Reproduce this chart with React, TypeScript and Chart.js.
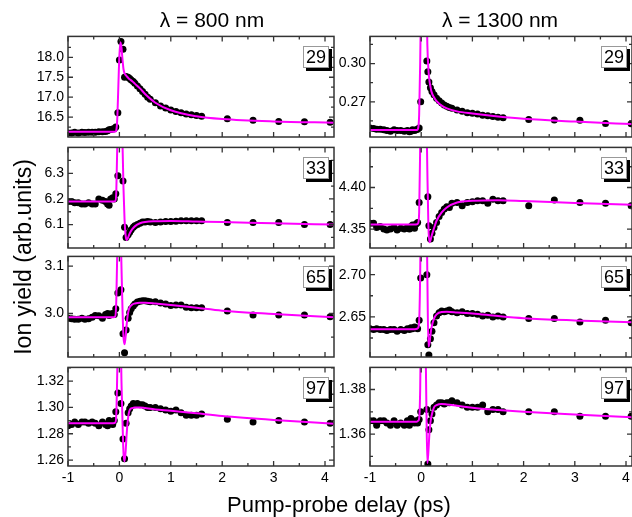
import React, { useEffect, useRef } from "react";
import { Chart, registerables } from "chart.js";

Chart.register(...registerables);

const FONT = "'Liberation Sans', Arial, Helvetica, sans-serif";

// ---------- data ----------
const DELAY_800 = [-1.0, -0.93, -0.87, -0.8, -0.73, -0.67, -0.6, -0.53, -0.47, -0.4, -0.33, -0.27, -0.23, -0.2, -0.17, -0.13, -0.1, -0.07, -0.03, 0.0, 0.03, 0.07, 0.1, 0.13, 0.17, 0.2, 0.23, 0.27, 0.3, 0.35, 0.4, 0.45, 0.5, 0.55, 0.6, 0.7, 0.8, 0.9, 1.0, 1.1, 1.2, 1.3, 1.4, 1.5, 1.6, 2.1, 2.6, 3.1, 3.6, 4.1];
const DELAY_1300 = [-1.0, -0.93, -0.87, -0.8, -0.73, -0.67, -0.6, -0.53, -0.47, -0.4, -0.33, -0.27, -0.23, -0.2, -0.17, -0.13, -0.1, -0.07, -0.04, -0.01, 0.03, 0.07, 0.11, 0.13, 0.15, 0.18, 0.21, 0.25, 0.3, 0.35, 0.4, 0.45, 0.5, 0.55, 0.6, 0.7, 0.8, 0.9, 1.0, 1.1, 1.2, 1.3, 1.4, 1.5, 1.6, 2.1, 2.6, 3.1, 3.6, 4.1];
const FIT_DELAY = [-1, -0.12, -0.08, -0.06, -0.04, -0.02, 0, 0.02, 0.04, 0.06, 0.08, 0.1, 0.12, 0.14, 0.16, 0.18, 0.2, 0.25, 0.3, 0.4, 0.5, 0.7, 1.0, 1.5, 2.0, 3.0, 4.2];

const Y29_800 = [16.10, 16.10, 16.12, 16.10, 16.12, 16.11, 16.12, 16.12, 16.12, 16.13, 16.13, 16.14, 16.16, 16.18, 16.19, 16.20, 16.21, 16.25, 16.61, 17.93, 18.40, 18.20, 17.50, 17.52, 17.50, 17.47, 17.43, 17.39, 17.35, 17.28, 17.21, 17.14, 17.07, 17.00, 16.95, 16.86, 16.78, 16.73, 16.68, 16.64, 16.61, 16.58, 16.56, 16.54, 16.52, 16.46, 16.42, 16.39, 16.38, 16.37];
const FIT29_800 = [16.13, 16.13, 16.135, 16.17, 16.5, 17.3, 18.05, 18.38, 18.25, 17.95, 17.7, 17.6, 17.56, 17.53, 17.5, 17.47, 17.45, 17.4, 17.34, 17.22, 17.08, 16.86, 16.67, 16.52, 16.45, 16.39, 16.36];

const Y33_800 = [6.19, 6.19, 6.185, 6.185, 6.18, 6.18, 6.185, 6.18, 6.18, 6.20, 6.195, 6.19, 6.18, 6.175, 6.20, 6.205, 6.20, 6.22, 6.29, null, null, 6.27, 6.09, 6.05, 6.06, 6.07, 6.08, 6.09, 6.095, 6.10, 6.105, 6.11, 6.11, 6.112, 6.11, 6.108, 6.11, 6.112, 6.112, 6.113, 6.115, 6.115, 6.115, 6.115, 6.115, 6.108, 6.108, 6.108, 6.10, 6.10];
const FIT33_800 = [6.19, 6.19, 6.192, 6.23, 6.42, 6.7, 6.9, 6.9, 6.7, 6.42, 6.24, 6.12, 6.06, 6.04, 6.045, 6.055, 6.065, 6.082, 6.093, 6.105, 6.11, 6.113, 6.114, 6.112, 6.11, 6.105, 6.1];

const Y65_800 = [2.990, 2.989, 2.988, 2.988, 2.990, 2.988, 2.989, 2.992, 2.996, 2.995, 2.990, 2.998, 3.000, 2.996, 2.999, 3.000, 2.998, 3.010, 3.043, null, 3.050, 2.957, 2.917, 2.965, 2.990, 3.002, 3.010, 3.016, 3.020, 3.024, 3.026, 3.027, 3.027, 3.026, 3.025, 3.025, 3.022, 3.020, 3.017, 3.018, 3.018, 3.013, 3.012, 3.012, 3.012, 3.005, 2.997, 2.997, 2.997, 2.993];
const FIT65_800 = [2.992, 2.992, 2.994, 3.03, 3.14, 3.25, 3.3, 3.2, 3.1, 3.01, 2.95, 2.935, 2.95, 2.975, 2.995, 3.007, 3.013, 3.019, 3.021, 3.0225, 3.0225, 3.021, 3.018, 3.012, 3.006, 2.999, 2.992];

const Y97_800 = [1.286, 1.287, 1.289, 1.287, 1.289, 1.289, 1.288, 1.289, 1.288, 1.286, 1.289, 1.287, 1.286, 1.290, 1.288, 1.287, 1.290, 1.2967, 1.311, null, 1.303, 1.276, 1.261, 1.288, 1.296, 1.299, 1.301, 1.303, 1.302, 1.303, 1.302, 1.302, 1.301, 1.300, 1.300, 1.300, 1.299, 1.298, 1.297, 1.298, 1.296, 1.294, 1.294, 1.294, 1.295, 1.291, 1.289, 1.290, 1.289, 1.288];
const FIT97_800 = [1.288, 1.288, 1.2885, 1.295, 1.33, 1.37, 1.40, 1.37, 1.32, 1.29, 1.265, 1.259, 1.266, 1.279, 1.289, 1.295, 1.298, 1.2995, 1.3, 1.3, 1.2995, 1.2985, 1.2975, 1.2955, 1.2935, 1.2905, 1.2875];

const Y29_1300 = [0.2495, 0.2490, 0.2485, 0.2485, 0.2480, 0.2475, 0.2470, 0.2480, 0.2475, 0.2475, 0.2470, 0.2475, 0.2465, 0.2470, 0.2480, 0.2475, 0.2480, 0.2485, 0.2495, 0.2700, null, null, 0.3020, 0.2935, 0.2855, 0.2810, 0.2780, 0.2755, 0.2728, 0.2708, 0.2690, 0.2675, 0.2665, 0.2655, 0.2650, 0.2635, 0.2625, 0.2615, 0.2610, 0.2605, 0.2595, 0.2590, 0.2585, 0.2578, 0.2575, 0.2562, 0.2558, 0.2556, 0.2530, 0.2528];
const FIT29_1300 = [0.2478, 0.2478, 0.2479, 0.249, 0.26, 0.30, 0.36, 0.40, 0.42, 0.41, 0.39, 0.36, 0.315, 0.296, 0.287, 0.282, 0.278, 0.2735, 0.2705, 0.267, 0.2648, 0.2625, 0.2608, 0.2585, 0.2567, 0.2545, 0.2524];

const Y33_1300 = [4.357, 4.357, 4.352, 4.353, 4.350, 4.349, 4.350, 4.352, 4.349, 4.351, 4.350, 4.352, 4.350, 4.353, 4.355, 4.351, 4.356, 4.358, 4.382, null, null, null, null, 4.389, 4.354, 4.338, 4.345, 4.352, 4.358, 4.365, 4.370, 4.374, 4.377, 4.376, 4.381, 4.382, 4.378, 4.382, 4.383, 4.384, 4.384, 4.381, 4.386, 4.384, 4.384, 4.378, 4.385, 4.382, 4.381, 4.378];
const FIT33_1300 = [4.3555, 4.3555, 4.3557, 4.357, 4.37, 4.45, 4.55, 4.6, 4.6, 4.58, 4.55, 4.5, 4.42, 4.355, 4.334, 4.336, 4.341, 4.351, 4.36, 4.37, 4.376, 4.382, 4.384, 4.3848, 4.3838, 4.3815, 4.379];

const Y65_1300 = [2.636, 2.635, 2.636, 2.635, 2.635, 2.634, 2.635, 2.635, 2.633, 2.635, 2.634, 2.636, 2.635, 2.637, 2.636, 2.638, 2.637, 2.636, 2.646, 2.696, null, null, 2.700, 2.617, 2.605, 2.624, 2.633, 2.643, 2.651, 2.655, 2.657, 2.656, 2.657, 2.658, 2.656, 2.655, 2.656, 2.654, 2.654, 2.653, 2.651, 2.652, 2.650, 2.651, 2.650, 2.648, 2.648, 2.644, 2.646, 2.643];
const FIT65_1300 = [2.6355, 2.6355, 2.636, 2.637, 2.645, 2.70, 2.82, 2.9, 2.9, 2.88, 2.85, 2.80, 2.70, 2.615, 2.618, 2.628, 2.637, 2.648, 2.653, 2.6558, 2.656, 2.6553, 2.654, 2.651, 2.6485, 2.6458, 2.6435];

const Y97_1300 = [1.366, 1.366, 1.364, 1.366, 1.366, 1.365, 1.364, 1.366, 1.364, 1.365, 1.364, 1.366, 1.364, 1.367, 1.366, 1.365, 1.366, 1.365, 1.3665, 1.370, null, null, 1.371, 1.3466, 1.362, 1.366, 1.369, 1.372, 1.373, 1.374, 1.374, 1.3735, 1.374, 1.374, 1.375, 1.374, 1.373, 1.372, 1.372, 1.372, 1.373, 1.370, 1.371, 1.371, 1.370, 1.370, 1.370, 1.368, 1.368, 1.368];
const FIT97_1300 = [1.3655, 1.3655, 1.3656, 1.366, 1.367, 1.38, 1.42, 1.44, 1.44, 1.43, 1.41, 1.375, 1.347, 1.352, 1.36, 1.365, 1.368, 1.372, 1.373, 1.3735, 1.3733, 1.3727, 1.3718, 1.3708, 1.37, 1.3688, 1.3675];

// ---------- ticks & labels ----------
const X_TICKS = [-1, 0, 1, 2, 3, 4];
const X_MINOR = [-0.5, 0.5, 1.5, 2.5, 3.5];
const TICKS29_800 = [16.5, 17.0, 17.5, 18.0];
const TICKS33_800 = [6.1, 6.2, 6.3];
const TICKS65_800 = [3.0, 3.1];
const TICKS97_800 = [1.26, 1.28, 1.30, 1.32];
const TICKS29_1300 = [0.27, 0.30];
const TICKS33_1300 = [4.35, 4.40];
const TICKS65_1300 = [2.65, 2.70];
const TICKS97_1300 = [1.36, 1.38];
const MASSES = ["29", "33", "65", "97"];
const TITLES = ["λ = 800 nm", "λ = 1300 nm"];
const X_TITLE = "Pump-probe delay (ps)";
const Y_TITLE = "Ion yield (arb.units)";

// ---------- layout ----------
const COL_LEFT = [68, 370];
const COL_RIGHT = [334, 632];
const COL_XMAX = [4.175, 4.117];
const ROW_TOP = [36, 147, 256, 367];
const ROW_BOTTOM = [137, 248, 357, 466];
const YW = 50;
const PT = 12;
const PR = 6;

type PanelDef = {
  col: number;
  row: number;
  x: number[];
  y: (number | null)[];
  fit: number[];
  min: number;
  max: number;
  ticks: number[];
  dec: number;
};

const PANELS: PanelDef[] = [
  { col: 0, row: 0, x: DELAY_800, y: Y29_800, fit: FIT29_800, min: 16.0, max: 18.525, ticks: TICKS29_800, dec: 1 },
  { col: 0, row: 1, x: DELAY_800, y: Y33_800, fit: FIT33_800, min: 6.0086, max: 6.401, ticks: TICKS33_800, dec: 1 },
  { col: 0, row: 2, x: DELAY_800, y: Y65_800, fit: FIT65_800, min: 2.9082, max: 3.1204, ticks: TICKS65_800, dec: 1 },
  { col: 0, row: 3, x: DELAY_800, y: Y97_800, fit: FIT97_800, min: 1.2555, max: 1.3304, ticks: TICKS97_800, dec: 2 },
  { col: 1, row: 0, x: DELAY_1300, y: Y29_1300, fit: FIT29_1300, min: 0.2424, max: 0.3213, ticks: TICKS29_1300, dec: 2 },
  { col: 1, row: 1, x: DELAY_1300, y: Y33_1300, fit: FIT33_1300, min: 4.3272, max: 4.4483, ticks: TICKS33_1300, dec: 2 },
  { col: 1, row: 2, x: DELAY_1300, y: Y65_1300, fit: FIT65_1300, min: 2.6025, max: 2.7216, ticks: TICKS65_1300, dec: 2 },
  { col: 1, row: 3, x: DELAY_1300, y: Y97_1300, fit: FIT97_1300, min: 1.3457, max: 1.3899, ticks: TICKS97_1300, dec: 2 },
];

const frameTicks = {
  id: "frameTicks",
  afterDraw(chart: any, _args: any, opts: any) {
    const { ctx, chartArea } = chart;
    const { left, right, top, bottom } = chartArea;
    const xs = chart.scales.x;
    const ys = chart.scales.y;
    ctx.save();
    ctx.strokeStyle = "#333";
    ctx.lineWidth = 1.3;
    ctx.beginPath();
    const xTick = (v: number, len: number) => {
      const p = xs.getPixelForValue(v);
      if (p < left - 0.5 || p > right + 0.5) return;
      ctx.moveTo(p, bottom);
      ctx.lineTo(p, bottom - len);
      ctx.moveTo(p, top);
      ctx.lineTo(p, top + len);
    };
    const yTick = (v: number, len: number) => {
      const p = ys.getPixelForValue(v);
      if (p < top - 0.5 || p > bottom + 0.5) return;
      ctx.moveTo(left, p);
      ctx.lineTo(left + len, p);
      ctx.moveTo(right, p);
      ctx.lineTo(right - len, p);
    };
    X_TICKS.forEach((v) => xTick(v, 5));
    X_MINOR.forEach((v) => xTick(v, 3));
    (opts.yMajor as number[]).forEach((v) => yTick(v, 5));
    (opts.yMinor as number[]).forEach((v) => yTick(v, 3));
    ctx.stroke();
    ctx.lineWidth = 1.5;
    ctx.strokeRect(left, top, right - left, bottom - top);
    ctx.restore();
  },
};

function PanelChart({ p }: { p: PanelDef }) {
  const ref = useRef<HTMLCanvasElement | null>(null);
  const plotLeft = COL_LEFT[p.col];
  const plotRight = COL_RIGHT[p.col];
  const plotTop = ROW_TOP[p.row];
  const plotBottom = ROW_BOTTOM[p.row];
  const isBottom = p.row === 3;
  const XH = isBottom ? 30 : 14;
  const width = YW + (plotRight - plotLeft) + PR;
  const height = PT + (plotBottom - plotTop) + XH;

  useEffect(() => {
    const step = p.ticks[1] - p.ticks[0];
    const minors = [p.ticks[0] - step / 2, ...p.ticks.map((t) => t + step / 2)].filter(
      (v) => v > p.min && v < p.max
    );
    const pts = p.x
      .map((x, i) => ({ x, y: p.y[i] }))
      .filter((d) => d.y !== null) as { x: number; y: number }[];
    const fit = FIT_DELAY.map((x, i) => ({ x, y: p.fit[i] }));
    const chart = new Chart(ref.current as HTMLCanvasElement, {
      type: "scatter",
      data: {
        datasets: [
          {
            type: "line",
            data: fit,
            borderColor: "#ff00ff",
            borderWidth: 2,
            pointRadius: 0,
            fill: false,
            cubicInterpolationMode: "monotone",
          } as any,
          {
            type: "scatter",
            data: pts,
            pointRadius: 3.5,
            pointBackgroundColor: "#000",
            pointBorderWidth: 0,
            showLine: false,
          } as any,
        ],
      },
      options: {
        responsive: false,
        maintainAspectRatio: false,
        animation: false,
        events: [],
        layout: { padding: { top: PT, right: PR, left: 0, bottom: 0 } },
        plugins: {
          legend: { display: false },
          tooltip: { enabled: false },
          frameTicks: { yMajor: p.ticks, yMinor: minors },
        } as any,
        scales: {
          x: {
            type: "linear",
            min: -1,
            max: COL_XMAX[p.col],
            grid: { display: false, drawTicks: false },
            border: { display: false },
            ticks: {
              display: isBottom,
              autoSkip: false,
              maxRotation: 0,
              padding: 4,
              color: "#000",
              font: { family: FONT, size: 14 },
              callback: (v: any) => String(v),
            },
            afterBuildTicks: (s: any) => {
              s.ticks = X_TICKS.map((v) => ({ value: v }));
            },
            afterFit: (s: any) => {
              s.height = XH;
            },
          },
          y: {
            type: "linear",
            min: p.min,
            max: p.max,
            grid: { display: false, drawTicks: false },
            border: { display: false },
            ticks: {
              autoSkip: false,
              padding: 4,
              color: "#000",
              font: { family: FONT, size: 14 },
              callback: (v: any) => Number(v).toFixed(p.dec),
            },
            afterBuildTicks: (s: any) => {
              s.ticks = p.ticks.map((v) => ({ value: v }));
            },
            afterFit: (s: any) => {
              s.width = YW;
            },
          },
        } as any,
      },
      plugins: [frameTicks as any],
    });
    return () => chart.destroy();
  }, []);

  return (
    <canvas
      ref={ref}
      width={width}
      height={height}
      style={{ position: "absolute", left: plotLeft - YW, top: plotTop - PT, width, height }}
    />
  );
}

function MassLabel({ col, row, text }: { col: number; row: number; text: string }) {
  const right = COL_RIGHT[col] - 5;
  return (
    <div
      style={{
        position: "absolute",
        left: right - 26,
        top: ROW_TOP[row] + 10,
        width: 24,
        height: 20,
        border: "1px solid #999",
        background: "#fff",
        boxShadow: "3px 3px 0 #000",
        font: `18px ${FONT}`,
        lineHeight: "20px",
        textAlign: "center",
        color: "#000",
      }}
    >
      {text}
    </div>
  );
}

export default function App() {
  return (
    <div
      style={{
        position: "absolute",
        left: 0,
        top: 0,
        width: 632,
        height: 517,
        overflow: "hidden",
        background: "#fff",
        fontFamily: FONT,
        color: "#000",
      }}
    >
      {PANELS.map((p, i) => (
        <PanelChart key={i} p={p} />
      ))}
      {PANELS.map((p, i) => (
        <MassLabel key={"m" + i} col={p.col} row={p.row} text={MASSES[p.row]} />
      ))}
      {TITLES.map((t, i) => (
        <div
          key={"t" + i}
          style={{
            position: "absolute",
            left: (i === 0 ? 212 : 500) - 100,
            top: 6,
            width: 200,
            height: 28,
            lineHeight: "28px",
            textAlign: "center",
            fontSize: 21,
          }}
        >
          {t}
        </div>
      ))}
      <div
        style={{
          position: "absolute",
          left: 339 - 150,
          top: 491,
          width: 300,
          height: 28,
          lineHeight: "28px",
          textAlign: "center",
          fontSize: 22,
        }}
      >
        {X_TITLE}
      </div>
      <div
        style={{
          position: "absolute",
          left: 23 - 140,
          top: 257 - 15,
          width: 280,
          height: 30,
          lineHeight: "30px",
          textAlign: "center",
          fontSize: 23,
          transform: "rotate(-90deg)",
          transformOrigin: "50% 50%",
        }}
      >
        {Y_TITLE}
      </div>
    </div>
  );
}
